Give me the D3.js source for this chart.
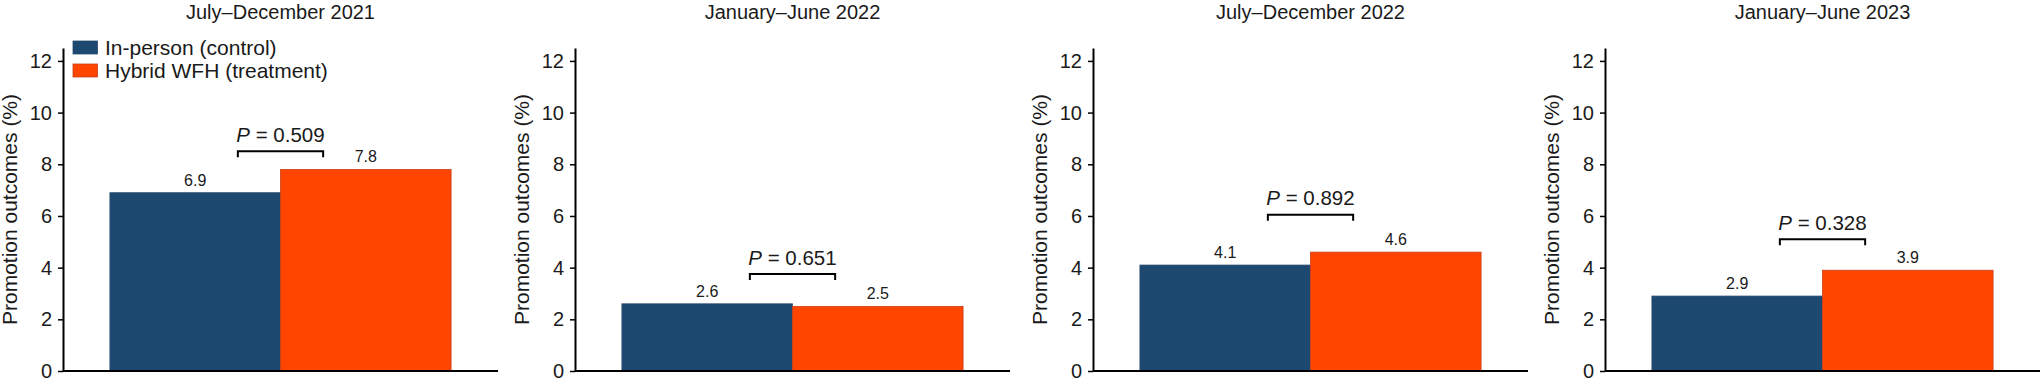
<!DOCTYPE html>
<html>
<head>
<meta charset="utf-8">
<script src="https://cdn.jsdelivr.net/npm/d3@7"></script>
<style>
  body { margin: 0; background: #fff; overflow: hidden; }
  svg { display: block; font-family: "Liberation Sans", Arial, Helvetica, sans-serif; }
  .tick text { font-size: 20px; fill: #1a1a1a; }
</style>
</head>
<body>
<svg id="chart"></svg>
<script>
const periods = ["July–December 2021", "January–June 2022", "July–December 2022", "January–June 2023"];
const groups = ["In-person (control)", "Hybrid WFH (treatment)"];
const control = [6.9, 2.6, 4.1, 2.9];
const treatment = [7.8, 2.5, 4.6, 3.9];
const pValues = ["0.509", "0.651", "0.892", "0.328"];
const bracketLevels = [8.5, 3.75, 6.05, 5.1];
const yTicks = [0, 2, 4, 6, 8, 10, 12];
const yTitle = "Promotion outcomes (%)";

const width = 2041;
const height = 384;
const svg = d3.select("#chart").attr("width", width).attr("height", height);

const colors = { fill: ["#1d4870", "#ff4500"], edge: ["#2b4d6e", "#c9401c"] };
const panelLeft = [0, 512, 1030, 1542];
const margin = { top: 48, left: 63 };
const innerWidth = 435;
const innerHeight = 323;

const xScale = d3.scaleBand().domain(groups).range([0, innerWidth])
  .paddingInner(0).paddingOuter(0.275);
const yScale = d3.scaleLinear().domain([0, 12.5]).range([innerHeight, 0]);
const bw = xScale.bandwidth();

periods.forEach((period, i) => {
  const g = svg.append("g")
    .attr("transform", `translate(${panelLeft[i] + margin.left},${margin.top})`);
  const vals = [control[i], treatment[i]];

  // title
  svg.append("text")
    .attr("x", panelLeft[i] + margin.left + innerWidth / 2)
    .attr("y", 18.5)
    .attr("text-anchor", "middle")
    .attr("font-size", "20px")
    .attr("fill", "#1a1a1a")
    .text(period);

  // bars
  g.selectAll("rect.bar")
    .data(groups)
    .join("rect")
    .attr("class", "bar")
    .attr("x", (d) => xScale(d))
    .attr("y", (d, j) => yScale(vals[j]))
    .attr("width", bw)
    .attr("height", (d, j) => innerHeight - yScale(vals[j]))
    .attr("fill", (d, j) => colors.fill[j])
    .attr("stroke", (d, j) => colors.edge[j])
    .attr("stroke-width", 0.8);

  // value labels
  g.selectAll("text.val")
    .data(groups)
    .join("text")
    .attr("class", "val")
    .attr("x", (d) => xScale(d) + bw / 2)
    .attr("y", (d, j) => yScale(vals[j]) - 7)
    .attr("text-anchor", "middle")
    .attr("font-size", "16px")
    .attr("fill", "#1a1a1a")
    .text((d, j) => vals[j].toFixed(1));

  // y axis
  const yAxis = d3.axisLeft(yScale).tickValues(yTicks).tickSize(5).tickPadding(6).tickSizeOuter(0);
  const yAxisG = g.append("g").call(yAxis);
  yAxisG.select(".domain").attr("stroke", "#000").attr("stroke-width", 2);
  yAxisG.selectAll(".tick line").attr("stroke", "#000").attr("stroke-width", 1.5);

  g.append("text")
    .attr("transform", `translate(-46,${innerHeight / 2}) rotate(-90)`)
    .attr("text-anchor", "middle")
    .attr("font-size", "21px")
    .attr("fill", "#1a1a1a")
    .text(yTitle);

  // x axis baseline
  g.append("line")
    .attr("x1", 0).attr("x2", innerWidth)
    .attr("y1", innerHeight).attr("y2", innerHeight)
    .attr("stroke", "#000").attr("stroke-width", 2.2);

  // P bracket
  const bx0 = xScale(groups[0]) + bw * 0.75;
  const bx1 = xScale(groups[1]) + bw * 0.25;
  const by = yScale(bracketLevels[i]);
  g.append("path")
    .attr("d", `M${bx0},${by + 6}V${by}H${bx1}V${by + 6}`)
    .attr("fill", "none")
    .attr("stroke", "#000")
    .attr("stroke-width", 2);
  const pt = g.append("text")
    .attr("x", (bx0 + bx1) / 2)
    .attr("y", by - 9.5)
    .attr("text-anchor", "middle")
    .attr("font-size", "20.5px")
    .attr("fill", "#1a1a1a");
  pt.append("tspan").attr("font-style", "italic").text("P");
  pt.append("tspan").text(" = " + pValues[i]);
});

// legend (first panel)
const legend = svg.append("g").attr("transform", "translate(73,41)");
groups.forEach((name, j) => {
  legend.append("rect")
    .attr("x", 0).attr("y", j * 23)
    .attr("width", 24.5).attr("height", 13)
    .attr("fill", colors.fill[j])
    .attr("stroke", colors.edge[j])
    .attr("stroke-width", 0.8);
  legend.append("text")
    .attr("x", 32).attr("y", j * 23 + 14)
    .attr("font-size", "21px")
    .attr("fill", "#1a1a1a")
    .text(name);
});
</script>
</body>
</html>
